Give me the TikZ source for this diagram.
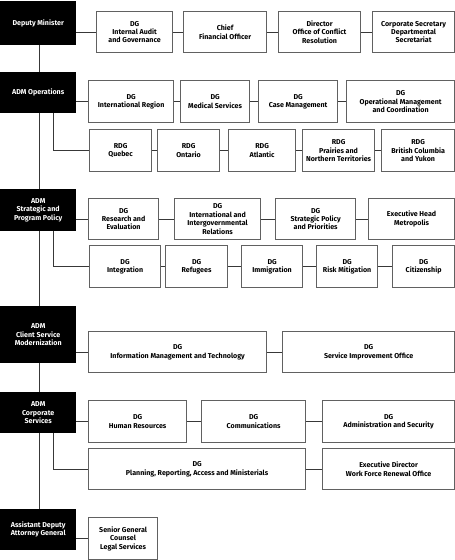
\documentclass[tikz,border=0pt]{standalone}
\usepackage{fontspec}
\setmainfont{Fira Sans}
\tikzset{
  every node/.style={align=center,inner sep=1pt,font=\fontsize{7.1}{8.4}\selectfont\bfseries},
  dgbox/.style={draw=black!62,line width=1.2pt,fill=white,text=black},
  headbox/.style={fill=black,text=white},
  conn/.style={draw=black!78,line width=0.9pt},
}
\newcommand\bx[7]{%
  \pgfmathsetmacro\bw{#4-#3}\pgfmathsetmacro\bh{#6-#5}%
  \node[#1,minimum width=\bw pt,minimum height=\bh pt,anchor=north west] (#2) at (#3,#5) {#7};}
\begin{document}
\begin{tikzpicture}[x=1pt,y=-1pt]
\useasboundingbox (0,0) rectangle (455,560);
% trunk (drawn first, behind head boxes)
\coordinate (ttop) at (39,40);
\coordinate (tbot) at (39,515);
\draw[conn] (ttop) -- (tbot);
% Deputy Minister
\bx{headbox}{dm}{0}{76}{1}{45}{Deputy Minister}
\bx{dgbox}{a1}{96}{172}{11}{52}{DG\\Internal Audit\\and Governance}
\bx{dgbox}{a2}{183}{266}{11}{52}{Chief\\Financial Officer}
\bx{dgbox}{a3}{278}{360}{11}{52}{Director\\Office of Conflict\\Resolution}
\bx{dgbox}{a4}{372}{454}{11}{52}{Corporate Secretary\\Departmental\\Secretariat}
\draw[conn] (a1.west -| dm.east) -- (a1.west) (a1.east) -- (a2.west) (a2.east) -- (a3.west) (a3.east) -- (a4.west);
% ADM Operations
\bx{headbox}{ops}{0}{76}{72}{113}{ADM Operations}
\bx{dgbox}{b1}{88}{173}{80}{122}{DG\\International Region}
\bx{dgbox}{b2}{180}{249}{80}{122}{DG\\Medical Services}
\bx{dgbox}{b3}{258}{337}{80}{122}{DG\\Case Management}
\bx{dgbox}{b4}{346}{454}{80}{122}{DG\\Operational Management\\and Coordination}
\bx{dgbox}{c1}{89}{151}{129}{171}{RDG\\Quebec}
\bx{dgbox}{c2}{157}{219}{129}{171}{RDG\\Ontario}
\bx{dgbox}{c3}{228}{295}{129}{171}{RDG\\Atlantic}
\bx{dgbox}{c4}{302}{374}{129}{171}{RDG\\Prairies and\\Northern Territories}
\bx{dgbox}{c5}{381}{454}{129}{171}{RDG\\British Columbia\\and Yukon}
\draw[conn] (b1.west -| ops.east) -- (b1.west) (b1.east) -- (b2.west) (b2.east) -- (b3.west) (b3.east) -- (b4.west);
\draw[conn] ([xshift=-23pt]ops.south east) |- (c1.west);
\draw[conn] (c1.east) -- (c2.west) (c2.east) -- (c3.west) (c3.east) -- (c4.west) (c4.east) -- (c5.west);
% ADM Strategic and Program Policy
\bx{headbox}{spp}{0}{76}{189}{231}{ADM\\Strategic and\\Program Policy}
\bx{dgbox}{d1}{88}{158}{198}{239}{DG\\Research and\\Evaluation}
\bx{dgbox}{d2}{174}{260}{198}{239}{DG\\International and\\Intergovernmental\\Relations}
\bx{dgbox}{d3}{275}{355}{198}{239}{DG\\Strategic Policy\\and Priorities}
\bx{dgbox}{d4}{368}{454}{198}{239}{Executive Head\\Metropolis}
\bx{dgbox}{e1}{89}{160}{245}{287}{DG\\Integration}
\bx{dgbox}{e2}{165}{227}{245}{287}{DG\\Refugees}
\bx{dgbox}{e3}{241}{302}{245}{287}{DG\\Immigration}
\bx{dgbox}{e4}{316}{377}{245}{287}{DG\\Risk Mitigation}
\bx{dgbox}{e5}{392}{454}{245}{287}{DG\\Citizenship}
\draw[conn] (d1.west -| spp.east) -- (d1.west) (d1.east) -- (d2.west) (d2.east) -- (d3.west) (d3.east) -- (d4.west);
\draw[conn] ([xshift=-23pt]spp.south east) |- (e1.west);
\draw[conn] (e1.east) -- (e2.west) (e2.east) -- (e3.west) (e3.east) -- (e4.west) (e4.east) -- (e5.west);
% ADM Client Service Modernization
\bx{headbox}{csm}{0}{76}{306}{363}{ADM\\Client Service\\Modernization}
\bx{dgbox}{f1}{88}{266}{331}{372}{DG\\Information Management and Technology}
\bx{dgbox}{f2}{282}{454}{331}{372}{DG\\Service Improvement Office}
\draw[conn] (f1.west -| csm.east) -- (f1.west) (f1.east) -- (f2.west);
% ADM Corporate Services
\bx{headbox}{cs}{0}{76}{392}{433}{ADM\\Corporate\\Services}
\bx{dgbox}{g1}{88}{186}{400}{442}{DG\\Human Resources}
\bx{dgbox}{g2}{201}{305}{400}{442}{DG\\Communications}
\bx{dgbox}{g3}{322}{454}{400}{442}{DG\\Administration and Security}
\bx{dgbox}{h1}{88}{305}{448}{489}{DG\\Planning, Reporting, Access and Ministerials}
\bx{dgbox}{h2}{322}{454}{448}{489}{Executive Director\\Work Force Renewal Office}
\draw[conn] (g1.west -| cs.east) -- (g1.west) (g1.east) -- (g2.west) (g2.east) -- (g3.west);
\draw[conn] ([xshift=-23pt]cs.south east) |- (h1.west);
\draw[conn] (h1.east) -- (h2.west);
% Assistant Deputy Attorney General
\bx{headbox}{adag}{0}{76}{509}{550}{Assistant Deputy\\Attorney General}
\bx{dgbox}{i1}{88}{157}{517}{559}{Senior General\\Counsel\\Legal Services}
\draw[conn] (i1.west -| adag.east) -- (i1.west);
\end{tikzpicture}
\end{document}
